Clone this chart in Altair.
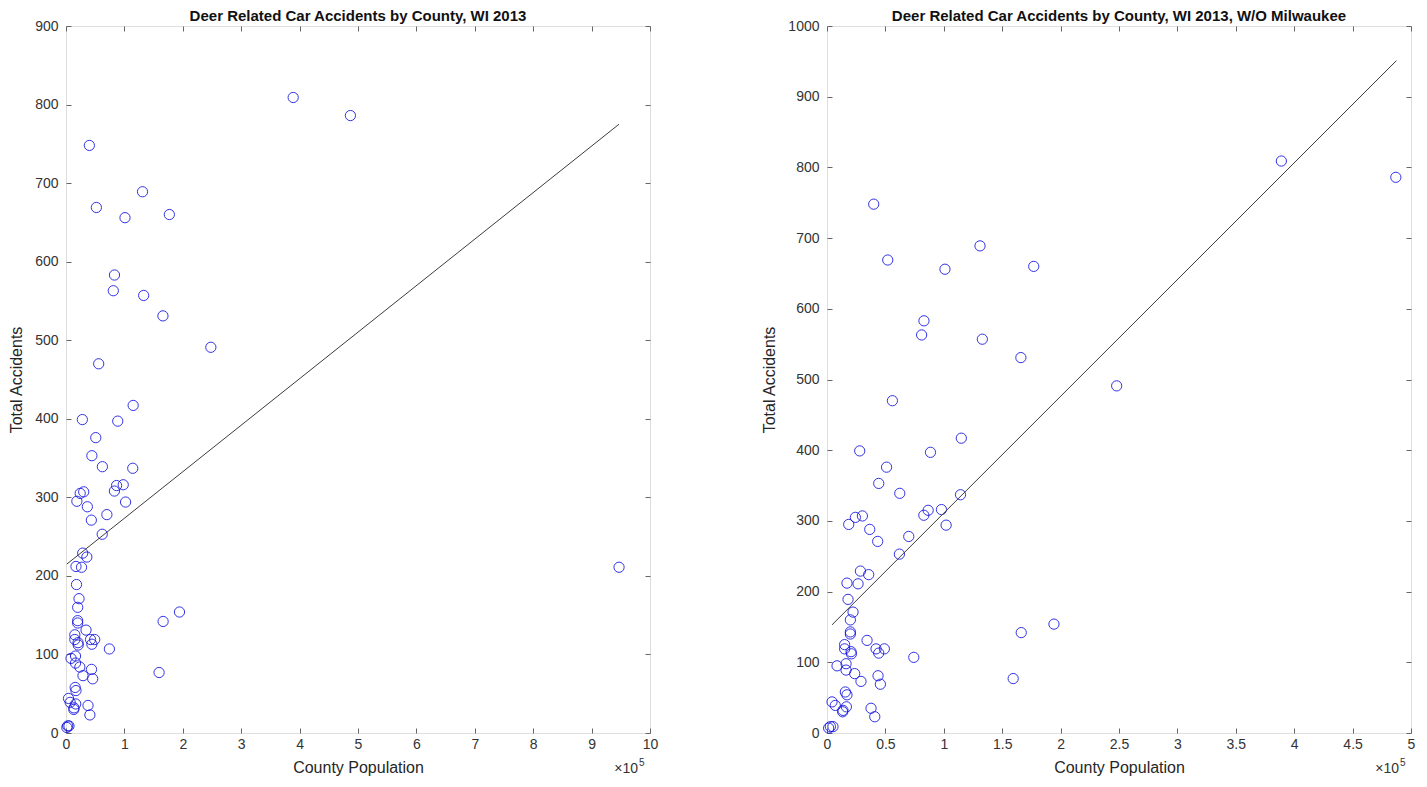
import altair as alt
import pandas as pd

# County population (persons) and total deer-related accidents, WI 2013
population = [
    40000, 389000, 487000, 52000, 101000, 131000, 177000, 83000, 81000, 133000, 166000, 248000, 56000,
    115000, 28000, 88600, 51000, 44300, 62300, 114300, 98000, 86600, 82900, 102000, 24300, 30300,
    18600, 36600, 43400, 70000, 62000, 28600, 35700, 17100, 26600, 18000, 22300, 20000, 20000,
    20000, 34300, 15100, 15100, 20600, 20900, 42000, 49100, 44300, 74300, 8600, 16300, 16300,
    23700, 29100, 43700, 45700, 15700, 17100, 4300, 7100, 16600, 13700, 13400, 37700, 40900,
    2900, 5100, 1400, 159400, 166300, 194300,
]
accidents = [
    748, 809, 786, 669, 656, 689, 660, 583, 563, 557, 531, 491, 470,
    417, 399, 397, 376, 353, 339, 337, 316, 315, 308, 294, 305, 307,
    295, 288, 271, 278, 253, 229, 224, 212, 211, 189, 171, 160, 143,
    140, 131, 125, 119, 115, 112, 119, 119, 113, 107, 95, 98, 89,
    84, 73, 81, 69, 58, 54, 44, 39, 37, 32, 30, 35, 23,
    9, 9, 7, 77, 142, 154,
]
milwaukee_population = [947000]
milwaukee_accidents = [211]

# Least-squares lines as drawn in the picture (end points)
fit_all_x = [1400, 947000]
fit_all_y = [215, 775]
fit_wo_x = [4300, 487500]
fit_wo_y = [153, 951]

titles = ["Deer Related Car Accidents by County, WI 2013",
          "Deer Related Car Accidents by County, WI 2013, W/O Milwaukee"]

FONT = "Liberation Sans"
W, H = 584, 707
BOX = "#8a8a8a"


def panel(pop, acc, fx, fy, xmax, xstep, ymax, ystep, title):
    df = pd.DataFrame({"pop": pop, "acc": acc})
    fit = pd.DataFrame({"x": fx, "y": fy})
    xs = alt.Scale(domain=[0, xmax], nice=False, zero=True)
    ys = alt.Scale(domain=[0, ymax], nice=False, zero=True)
    nx = int(round(xmax / xstep))
    ny = int(round(ymax / ystep))
    xvals = [i * xstep for i in range(nx + 1)]
    yvals = [i * ystep for i in range(ny + 1)]
    common = dict(offset=-5, tickSize=5, domain=False, grid=False,
                  tickColor="#666666", labelColor="#333333", labelFont=FONT,
                  labelFontSize=14, titleFont=FONT, titleFontSize=16,
                  titleFontWeight="normal", titleColor="#262626")
    pts = alt.Chart(df).mark_point(
        shape="circle", filled=False, color="#1010e0", size=105,
        strokeWidth=1, opacity=0.85
    ).encode(
        x=alt.X("pop:Q", scale=xs, axis=alt.Axis(
            orient="bottom", values=xvals,
            labelExpr="format(datum.value / 100000, '~g')",
            title="County Population", labelPadding=4, titlePadding=8,
            labelFlush=False, **common)),
        y=alt.Y("acc:Q", scale=ys, axis=alt.Axis(
            orient="left", values=yvals, title="Total Accidents", format="d",
            labelPadding=8, titlePadding=10, labelFlush=False, **common)),
    )
    line = alt.Chart(fit).mark_line(color="#3c3c3c", strokeWidth=1).encode(
        x=alt.X("x:Q", scale=xs, axis=alt.Axis(
            orient="top", values=xvals, labels=False, title=None,
            offset=-5, tickSize=5, domain=False, grid=False, tickColor="#666666")),
        y=alt.Y("y:Q", scale=ys, axis=alt.Axis(
            orient="right", values=yvals, labels=False, title=None,
            offset=-5, tickSize=5, domain=False, grid=False, tickColor="#666666")),
    )
    mult = alt.Chart(pd.DataFrame({"t": ["×10"]})).mark_text(
        align="right", baseline="middle", font=FONT, fontSize=14, color="#333333"
    ).encode(text="t:N", x=alt.value(W - 12), y=alt.value(H + 36))
    sup = alt.Chart(pd.DataFrame({"t": ["5"]})).mark_text(
        align="left", baseline="middle", font=FONT, fontSize=10, color="#333333"
    ).encode(text="t:N", x=alt.value(W - 11), y=alt.value(H + 30))
    return alt.layer(pts, line, mult, sup).resolve_axis(
        x="independent", y="independent"
    ).properties(
        width=W, height=H,
        title=alt.TitleParams(title, font=FONT, fontSize=15, fontWeight="bold",
                              color="#111111", offset=-5, anchor="middle"),
    )


left = panel(population + milwaukee_population, accidents + milwaukee_accidents,
             fit_all_x, fit_all_y, 1000000, 100000, 900, 100, titles[0])
right = panel(population, accidents, fit_wo_x, fit_wo_y,
              500000, 50000, 1000, 100, titles[1])

chart = alt.hconcat(left, right, spacing=102).properties(
    padding={"left": 0, "top": 0, "right": 0, "bottom": 0}
).configure_view(stroke=BOX, strokeWidth=1).configure(background="white")

chart.save("out.html", embed_options={"renderer": "svg", "actions": False})
